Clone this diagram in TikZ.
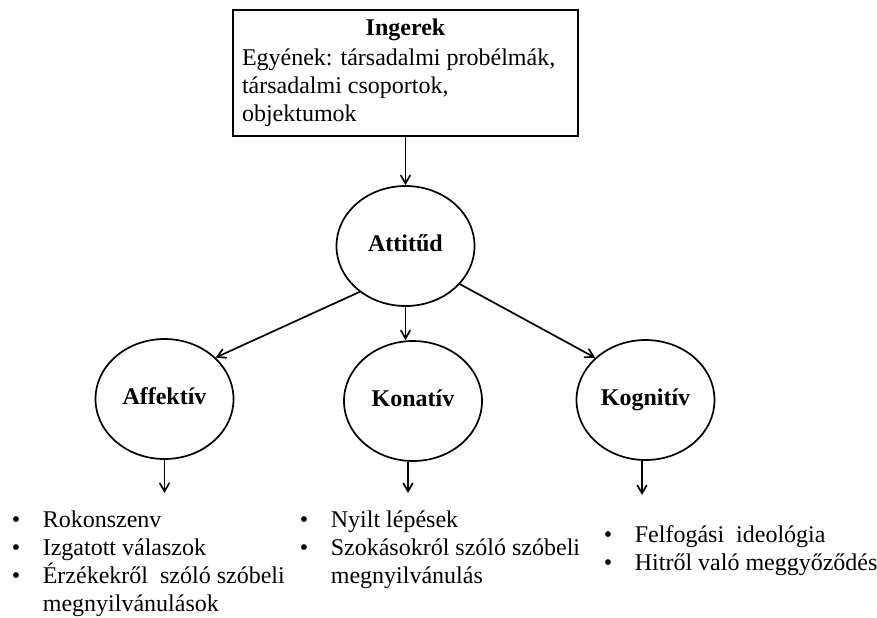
\documentclass[tikz,border=0pt]{standalone}
\usepackage{fontspec}
\setmainfont{Liberation Serif}
\usetikzlibrary{arrows,shapes.geometric}

\newcommand{\itm}[1]{\makebox[15.5pt][l]{\textbullet}#1}
\newcommand{\cont}[1]{\hspace*{15.5pt}#1}

\begin{document}
\begin{tikzpicture}[->,>=angle 60,x=0.5pt,y=-0.5pt,line width=0.85pt,
                    font=\fontsize{12}{14}\selectfont]

  \tikzstyle{stim}=[rectangle,draw,align=flush left,text width=163.5pt,
                    minimum height=63pt,inner xsep=4.5pt]
  \tikzstyle{comp}=[ellipse,draw,minimum width=69pt,minimum height=60pt,
                    inner sep=0pt,text height=8pt,text depth=2.5pt,
                    font=\fontsize{12}{14}\selectfont\bfseries]
  \tikzstyle{items}=[align=left,anchor=north west,inner sep=0pt]

  \useasboundingbox (0,0) rectangle (877,617);

  \node[stim] (ing) at (405.5,73)
    {\hfill\textbf{Ingerek}\hfill\mbox{}\\[1pt]
     \mbox{Egyének: társadalmi probélmák,}\\
     \mbox{társadalmi csoportok,}\\ objektumok};

  \node[comp] (att) at (405.5,246) {Attitűd};
  \node[comp] (aff) at (164.5,399) {Affektív};
  \node[comp] (kon) at (413,401)   {Konatív};
  \node[comp] (kog) at (645.5,400) {Kognitív};

  \node[items] (lst-aff) at (11,510)
    {\itm{Rokonszenv}\\ \itm{Izgatott válaszok}\\
     \itm{Érzékekről~ szóló szóbeli}\\ \cont{megnyilvánulások}};
  \node[items] (lst-kon) at (299,510)
    {\itm{Nyilt lépések}\\ \itm{Szokásokról szóló szóbeli}\\
     \cont{megnyilvánulás}};
  \node[items] (lst-kog) at (603,525)
    {\itm{Felfogási~ ideológia}\\ \itm{Hitről való meggyőződés}};

  \coordinate (aff-out) at (164.5,493);
  \coordinate (kon-out) at (408,493);
  \coordinate (kog-out) at (642,495);

  \path (ing) edge (att)
        (att.225) edge (aff.39)
        (att.south) edge (att.south |- kon.north)
        (att.325) edge (kog.140.5)
        (aff.south) edge (aff-out)
        (kon-out |- kon.south) edge (kon-out)
        (kog-out |- kog.south) edge (kog-out);
\end{tikzpicture}
\end{document}
